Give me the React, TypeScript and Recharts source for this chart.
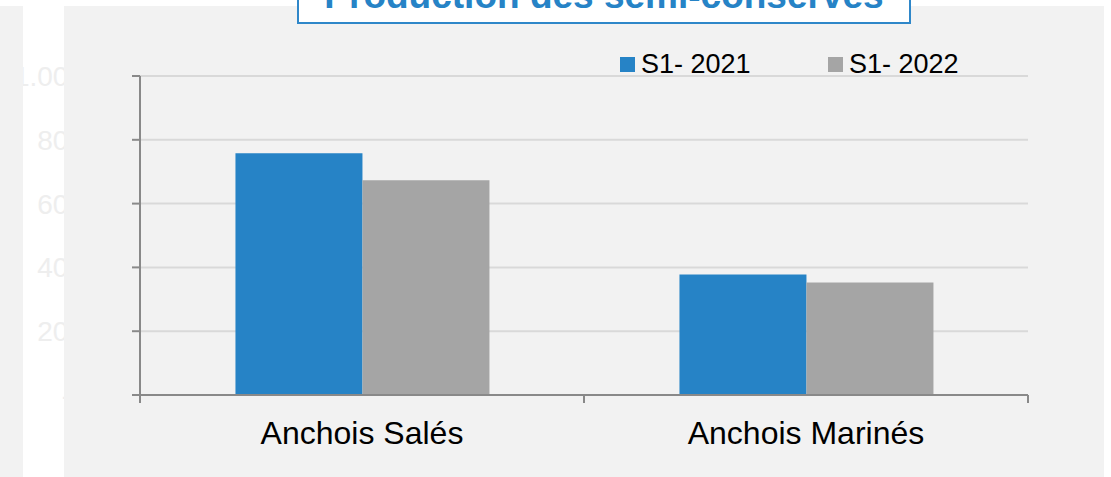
import { Bar, BarChart, CartesianGrid, XAxis, YAxis } from "recharts";

// Tonnage per product, first half of each year.
const CATEGORIES = ["Anchois Salés", "Anchois Marinés"];
const SERIES_NAMES = ["S1- 2021", "S1- 2022"];
const S1_2021 = [758, 378];
const S1_2022 = [673, 353];
const Y_TICKS = [0, 200, 400, 600, 800, 1000];
const Y_TICK_LABELS = ["-", "200", "400", "600", "800", "1.000"];

const TITLE = "Production des semi-conserves";

const BLUE = "#2683c6";
const GRAY = "#a5a5a5";
const AXIS = "#898989";
const FONT = '"Liberation Sans", Arial, sans-serif';

const chartData = CATEGORIES.map((name, i) => ({
  name,
  s2021: S1_2021[i],
  s2022: S1_2022[i],
}));

// y labels sit in the white gutter left of the panel, mostly hidden by it
function YTick(props: any) {
  const { x, y, payload, index } = props;
  const idx = Y_TICKS.indexOf(payload.value);
  const label = idx >= 0 ? Y_TICK_LABELS[idx] : String(payload.value);
  const id = `yclip-${index}`;
  const tx = payload.value === 0 ? x - 59 : x - 46;
  return (
    <g>
      <defs>
        <clipPath id={id}>
          <rect x={23} y={0} width={41} height={477} />
        </clipPath>
      </defs>
      <text
        x={tx}
        y={y}
        dy="0.355em"
        textAnchor="end"
        fontSize={28}
        fontFamily={FONT}
        fill="#eeeeee"
        clipPath={`url(#${id})`}
      >
        {label}
      </text>
    </g>
  );
}

// category labels plus tick marks on the category boundaries
function XTick(props: any) {
  const { x, y, payload, index, visibleTicksCount } = props;
  const half = payload.offset ?? 0;
  const axisY = y - 10;
  const last = index === (visibleTicksCount ?? CATEGORIES.length) - 1;
  return (
    <g>
      <line x1={x - half} x2={x - half} y1={axisY} y2={axisY + 8} stroke={AXIS} strokeWidth={2} />
      {last && (
        <line x1={x + half} x2={x + half} y1={axisY} y2={axisY + 8} stroke={AXIS} strokeWidth={2} />
      )}
      <text x={x} y={y + 39} textAnchor="middle" fontSize={32} fontFamily={FONT} fill="#000">
        {payload.value}
      </text>
    </g>
  );
}

export default function App() {
  return (
    <div
      style={{
        position: "absolute",
        left: 0,
        top: 0,
        width: 1111,
        height: 477,
        background: "#fff",
        overflow: "hidden",
        fontFamily: FONT,
      }}
    >
      <div style={{ position: "absolute", left: 0, top: 6, width: 23, height: 471, background: "#f2f2f2" }} />
      <div style={{ position: "absolute", left: 64, top: 6, width: 1040, height: 471, background: "#f2f2f2" }} />

      <div style={{ position: "absolute", left: 0, top: 0 }}>
        <BarChart
          width={1111}
          height={477}
          data={chartData}
          margin={{ top: 76, right: 83, bottom: 0, left: 0 }}
          barCategoryGap="21.5%"
          barGap={0}
        >
          <CartesianGrid vertical={false} stroke="#d9d9d9" strokeWidth={2} />
          <XAxis
            dataKey="name"
            height={82}
            tickLine={false}
            tickSize={8}
            tickMargin={2}
            axisLine={{ stroke: AXIS, strokeWidth: 2 }}
            tick={<XTick />}
            interval={0}
          />
          <YAxis
            width={140}
            domain={[0, 1000]}
            ticks={Y_TICKS}
            tickSize={8}
            tickMargin={2}
            axisLine={{ stroke: AXIS, strokeWidth: 2 }}
            tickLine={{ stroke: AXIS, strokeWidth: 2 }}
            tick={<YTick />}
            interval={0}
          />
          <Bar dataKey="s2021" name={SERIES_NAMES[0]} fill={BLUE} isAnimationActive={false} />
          <Bar dataKey="s2022" name={SERIES_NAMES[1]} fill={GRAY} isAnimationActive={false} />
        </BarChart>
      </div>

      {/* legend */}
      {SERIES_NAMES.map((name, i) => (
        <div
          key={name}
          style={{
            position: "absolute",
            left: i === 0 ? 620 : 828,
            top: 51,
            height: 27,
            display: "flex",
            alignItems: "flex-start",
            fontSize: 27,
            lineHeight: "27px",
            color: "#000",
            whiteSpace: "nowrap",
          }}
        >
          <span
            style={{
              display: "inline-block",
              width: 15,
              height: 15,
              marginTop: 6,
              marginRight: 6,
              background: i === 0 ? BLUE : GRAY,
            }}
          />
          {name}
        </div>
      ))}

      {/* title box, cut off by the top edge as in the source */}
      <div
        style={{
          position: "absolute",
          left: 297,
          top: -40,
          width: 610,
          height: 60,
          background: "#fff",
          border: "2px solid #2f87c9",
          textAlign: "center",
        }}
      >
        <div
          style={{
            position: "absolute",
            left: 0,
            right: 0,
            top: 15,
            fontSize: 37,
            lineHeight: "37px",
            fontWeight: "bold",
            color: BLUE,
            whiteSpace: "nowrap",
          }}
        >
          {TITLE}
        </div>
      </div>
    </div>
  );
}
